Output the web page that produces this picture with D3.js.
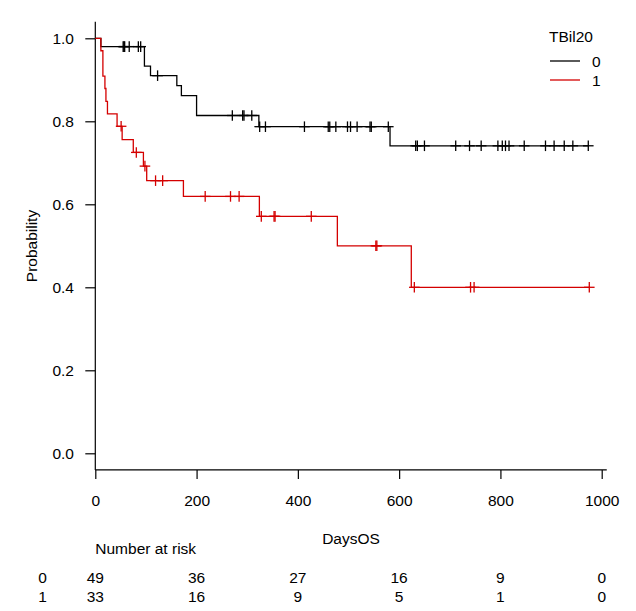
<!DOCTYPE html>
<html>
<head>
<meta charset="utf-8">
<script src="https://cdn.jsdelivr.net/npm/d3@7"></script>
<style>
  html, body { margin: 0; padding: 0; background: #fff; }
  svg text { font-family: "Liberation Sans", Arial, sans-serif; fill: #000; }
</style>
</head>
<body>
<svg id="chart" width="636" height="611"></svg>
<script>
// ---- data ----
const groups = ["0", "1"];
const groupColors = ["#000000", "#d40000"];

// Kaplan-Meier step points (time, survival) for TBil20 = 0
const stepTimes0 = [0, 11, 97, 109, 161, 170, 200, 323, 582];
const stepSurv0  = [1, 0.980, 0.933, 0.910, 0.886, 0.862, 0.814, 0.787, 0.741];
const lastTime0 = 973.5;
const censor0 = [55, 56.5, 58, 67, 85, 89.6, 123, 270.6, 291, 293.6, 309, 324.6, 336,
  413, 460, 463, 475, 498, 504, 517, 542.5, 545, 578.6, 632.7, 636, 650, 711.7, 739,
  762, 795, 803.7, 810, 817, 847, 889, 906, 926, 943, 973.5];

// Kaplan-Meier step points (time, survival) for TBil20 = 1
const stepTimes1 = [0, 11, 15, 19, 21, 24, 43, 53, 75, 95, 101.5, 174, 324, 478, 624];
const stepSurv1  = [1, 0.970, 0.909, 0.879, 0.848, 0.818, 0.788, 0.756, 0.725, 0.692,
  0.657, 0.619, 0.571, 0.500, 0.400];
const lastTime1 = 975.5;
const censor1 = [51, 81, 98, 119, 133, 217, 267, 284, 327.8, 353, 355, 426.5, 554, 556,
  630, 741, 748, 975.5];

// axis ticks
const xTicks = [0, 200, 400, 600, 800, 1000];
const yTicks = [0, 0.2, 0.4, 0.6, 0.8, 1.0];

// number at risk table
const riskTimes = [0, 200, 400, 600, 800, 1000];
const risk0 = [49, 36, 27, 16, 9, 0];
const risk1 = [33, 16, 9, 5, 1, 0];

// ---- drawing ----
const svg = d3.select("#chart");
const FS = 15.5;

const x = d3.scaleLinear().domain([0, 1000]).range([95.3, 601.7]);
const y = d3.scaleLinear().domain([0, 1]).range([453.3, 38.3]);

const xMax = 1010, yLo = -0.04, yHi = 1.04;
const bottomY = y(yLo);

// L-shaped frame
svg.append("line").attr("x1", x(0)).attr("x2", x(0)).attr("y1", y(yHi)).attr("y2", bottomY)
  .attr("stroke", "#000").attr("stroke-width", 1.2);
svg.append("line").attr("x1", x(0)).attr("x2", x(xMax)).attr("y1", bottomY).attr("y2", bottomY)
  .attr("stroke", "#000").attr("stroke-width", 1.2);

// x axis
const gx = svg.append("g").attr("transform", `translate(0,${bottomY})`)
  .call(d3.axisBottom(x).tickValues(xTicks).tickSize(9).tickFormat(d3.format("d")));
gx.select(".domain").remove();
gx.selectAll(".tick line").attr("stroke", "#000").attr("stroke-width", 1.2);
gx.selectAll(".tick text").attr("y", 36.6).attr("dy", null)
  .style("font-size", FS + "px").attr("fill", "#000");

// y axis
const gy = svg.append("g").attr("transform", `translate(${x(0)},0)`)
  .call(d3.axisLeft(y).tickValues(yTicks).tickSize(10).tickPadding(11.3).tickFormat(d3.format(".1f")));
gy.select(".domain").remove();
gy.selectAll(".tick line").attr("stroke", "#000").attr("stroke-width", 1.2);
gy.selectAll(".tick text").attr("dy", "0.36em").style("font-size", FS + "px").attr("fill", "#000");

// axis titles
svg.append("text").attr("x", 351).attr("y", 544).attr("text-anchor", "middle")
  .style("font-size", FS + "px").text("DaysOS");
svg.append("text").attr("transform", `translate(37,246) rotate(-90)`).attr("text-anchor", "middle")
  .style("font-size", FS + "px").text("Probability");

// curves
const series = [
  { times: stepTimes0, surv: stepSurv0, last: lastTime0, censor: censor0 },
  { times: stepTimes1, surv: stepSurv1, last: lastTime1, censor: censor1 }
];
const line = d3.line().x(d => x(d[0])).y(d => y(d[1])).curve(d3.curveStepAfter);

function survAt(s, t) {
  let v = 1;
  for (let i = 0; i < s.times.length; i++) if (s.times[i] <= t) v = s.surv[i];
  return v;
}

series.forEach((s, i) => {
  const pts = s.times.map((t, k) => [t, s.surv[k]]);
  pts.push([s.last, s.surv[s.surv.length - 1]]);
  svg.append("path").datum(pts).attr("d", line)
    .attr("fill", "none").attr("stroke", groupColors[i]).attr("stroke-width", 1.3);
  const arm = 5.3;
  const g = svg.append("g").attr("stroke", groupColors[i]).attr("stroke-width", 1.3);
  s.censor.forEach(t => {
    const cx = x(t), cy = y(survAt(s, t));
    g.append("line").attr("x1", cx).attr("x2", cx).attr("y1", cy - arm).attr("y2", cy + arm);
    g.append("line").attr("x1", cx - arm).attr("x2", cx + arm).attr("y1", cy).attr("y2", cy);
  });
});

// legend
svg.append("text").attr("x", 549).attr("y", 41.5).style("font-size", FS + "px").text("TBil20");
groups.forEach((gname, i) => {
  const ly = 61 + i * 19;
  svg.append("line").attr("x1", 550).attr("x2", 580).attr("y1", ly).attr("y2", ly)
    .attr("stroke", groupColors[i]).attr("stroke-width", 1.3);
  svg.append("text").attr("x", 592).attr("y", ly + 5.5).style("font-size", FS + "px").text(gname);
});

// number at risk
svg.append("text").attr("x", 95.3).attr("y", 554).style("font-size", FS + "px").text("Number at risk");
[risk0, risk1].forEach((row, i) => {
  const ry = 583 + i * 18.5;
  svg.append("text").attr("x", 42.5).attr("y", ry).attr("text-anchor", "middle")
    .style("font-size", FS + "px").text(groups[i]);
  svg.selectAll(null).data(row).enter().append("text")
    .attr("x", (d, k) => x(riskTimes[k])).attr("y", ry).attr("text-anchor", "middle")
    .style("font-size", FS + "px").text(d => d);
});
</script>
</body>
</html>
